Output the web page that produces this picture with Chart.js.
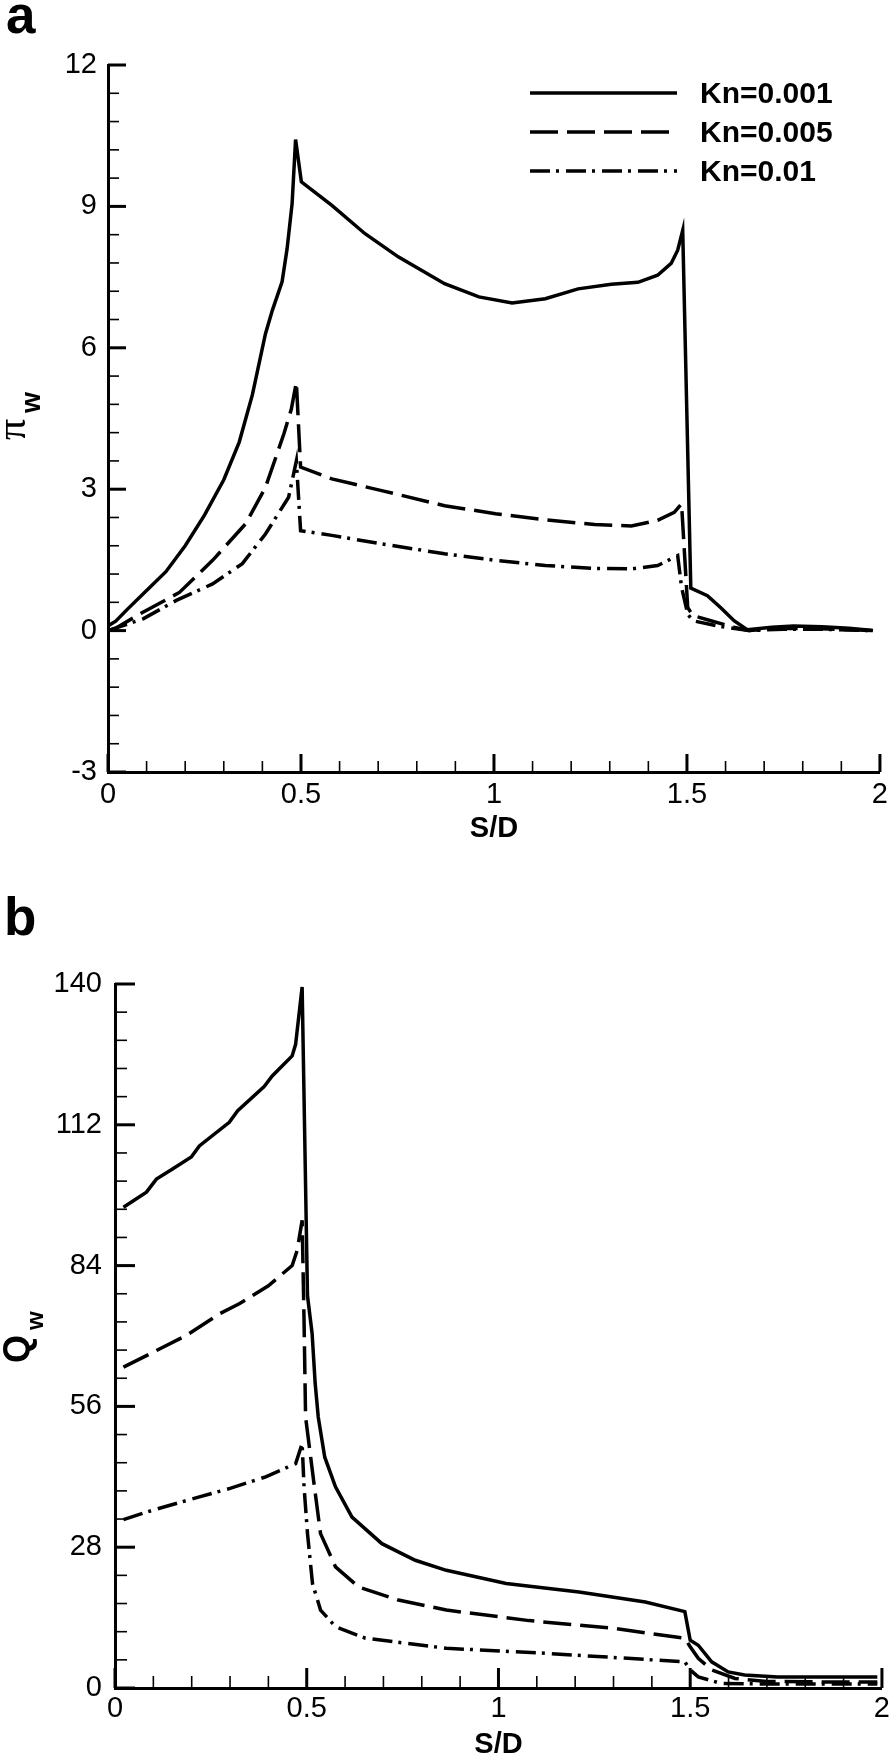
<!DOCTYPE html>
<html><head><meta charset="utf-8">
<script src="https://cdn.jsdelivr.net/npm/chart.js@4.4.1/dist/chart.umd.min.js"></script>
<style>
html,body{margin:0;padding:0;background:#fff;overflow:hidden}
#wa{position:absolute;left:0;top:0;width:896px;height:860px}
#wb{position:absolute;left:0;top:860px;width:896px;height:899px}
</style></head><body>
<div id="wa"><canvas id="ca" width="896" height="860"></canvas></div>
<div id="wb"><canvas id="cb" width="896" height="899"></canvas></div>
<script>
// ---------- labels & ticks ----------
const seriesLabels = ['Kn=0.001', 'Kn=0.005', 'Kn=0.01'];
const xTitle = 'S/D';
const xTicks = [0, 0.5, 1, 1.5, 2];
const xTickLabels = ['0', '0.5', '1', '1.5', '2'];
const yTicksA = [-3, 0, 3, 6, 9, 12];
const yTickLabelsA = ['-3', '0', '3', '6', '9', '12'];
const yTicksB = [0, 28, 56, 84, 112, 140];
const yTickLabelsB = ['0', '28', '56', '84', '112', '140'];

// ---------- panel a : pi_w ----------
const a001X = [0, 0.02, 0.05, 0.1, 0.15, 0.2, 0.25, 0.3, 0.34, 0.374, 0.408, 0.426, 0.451, 0.464, 0.477, 0.486, 0.501, 0.58, 0.666, 0.752, 0.872, 0.961, 1.047, 1.133, 1.218, 1.304, 1.373, 1.424, 1.459, 1.476, 1.489, 1.51, 1.553, 1.587, 1.622, 1.656, 1.72, 1.776, 1.85, 1.92, 1.982];
const a001Y = [0.1, 0.2, 0.45, 0.85, 1.25, 1.8, 2.45, 3.2, 4.0, 5.0, 6.3, 6.8, 7.4, 8.1, 9.06, 10.42, 9.52, 9.02, 8.42, 7.93, 7.36, 7.08, 6.95, 7.04, 7.25, 7.35, 7.39, 7.54, 7.79, 8.07, 8.49, 0.9, 0.74, 0.49, 0.21, 0.02, 0.07, 0.1, 0.08, 0.05, 0.0];
const a005X = [0, 0.018, 0.082, 0.185, 0.271, 0.357, 0.408, 0.456, 0.475, 0.488, 0.499, 0.58, 0.709, 0.872, 1.004, 1.133, 1.261, 1.356, 1.424, 1.467, 1.486, 1.502, 1.515, 1.562, 1.622, 1.66, 1.75, 1.85, 1.982];
const a005Y = [0, 0.04, 0.35, 0.81, 1.49, 2.27, 3.04, 4.18, 4.7, 5.27, 3.47, 3.22, 2.97, 2.65, 2.48, 2.35, 2.25, 2.22, 2.34, 2.51, 2.69, 0.49, 0.32, 0.21, 0.07, 0.0, 0.05, 0.04, 0.0];
const a01X = [0, 0.091, 0.177, 0.271, 0.348, 0.408, 0.468, 0.488, 0.499, 0.58, 0.709, 0.872, 1.004, 1.133, 1.261, 1.356, 1.424, 1.476, 1.486, 1.502, 1.515, 1.579, 1.66, 1.75, 1.85, 1.982];
const a01Y = [0, 0.25, 0.64, 0.99, 1.42, 2.05, 2.83, 3.6, 2.12, 2.02, 1.84, 1.63, 1.49, 1.38, 1.32, 1.31, 1.38, 1.59, 0.92, 0.35, 0.21, 0.1, 0.0, 0.03, 0.03, 0.0];

// ---------- panel b : Q_w ----------
const b001X = [0.022, 0.082, 0.108, 0.15, 0.199, 0.22, 0.298, 0.32, 0.389, 0.41, 0.462, 0.471, 0.488, 0.502, 0.514, 0.522, 0.53, 0.547, 0.575, 0.618, 0.696, 0.783, 0.864, 1.02, 1.21, 1.383, 1.486, 1.5, 1.521, 1.556, 1.599, 1.642, 1.728, 1.988];
const b001Y = [95.6, 98.6, 101.2, 103.2, 105.6, 107.8, 112.5, 114.8, 119.6, 121.7, 125.7, 128.0, 139.4, 78, 70.5, 60.6, 53.9, 45.9, 40, 34, 28.7, 25.4, 23.4, 20.8, 19.1, 17.1, 15.2, 9.5, 8.5, 5.2, 3.2, 2.6, 2.2, 2.2];
const b005X = [0.022, 0.1, 0.186, 0.272, 0.324, 0.4, 0.462, 0.475, 0.488, 0.493, 0.497, 0.519, 0.536, 0.575, 0.635, 0.739, 0.864, 1.08, 1.296, 1.486, 1.5, 1.521, 1.556, 1.617, 1.7, 1.85, 1.988];
const b005Y = [63.8, 66.8, 70.1, 74.4, 76.4, 80, 84, 87, 93, 73, 53.9, 40.6, 30.7, 24.1, 20.1, 17.5, 15.5, 13.4, 11.9, 9.9, 8.2, 5.9, 3.6, 1.9, 1.3, 1.2, 1.2];
const b01X = [0.022, 0.1, 0.22, 0.3, 0.393, 0.471, 0.488, 0.493, 0.502, 0.515, 0.536, 0.575, 0.653, 0.864, 1.123, 1.486, 1.5, 1.521, 1.581, 1.7, 1.85, 1.988];
const b01Y = [33.5, 35.4, 38, 39.7, 42, 44.6, 48.6, 40, 30.7, 20.8, 15.5, 12.2, 9.9, 7.9, 6.9, 5.2, 3.6, 2.2, 0.9, 0.8, 0.8, 0.8];

// ---------- styles ----------
const FONT = "'Liberation Sans', Arial, Helvetica, sans-serif";
const dashes = [[], [28, 9], [20, 6, 3, 7]];

function pts(xs, ys) { return xs.map((x, i) => ({ x: x, y: ys[i] })); }
function ds(i, xs, ys) {
  return {
    label: seriesLabels[i], data: pts(xs, ys), borderColor: '#000', backgroundColor: '#000',
    borderWidth: 3.5, borderDash: dashes[i], pointRadius: 0, tension: 0, fill: false,
    borderJoinStyle: 'miter'
  };
}
function minorsOf(arr) {
  const out = [];
  for (let i = 0; i < arr.length - 1; i++) {
    const s = (arr[i + 1] - arr[i]) / 5;
    for (let k = 1; k < 5; k++) out.push(arr[i] + k * s);
  }
  return out;
}

function decoPlugin(o) {
  return {
    id: 'deco',
    afterDraw(chart) {
      const ctx = chart.ctx, xs = chart.scales.x, ys = chart.scales.y, ca = chart.chartArea;
      ctx.save();
      ctx.strokeStyle = '#000'; ctx.fillStyle = '#000'; ctx.lineCap = 'butt'; ctx.setLineDash([]);
      const tick = (x1, y1, x2, y2, w) => { ctx.lineWidth = w; ctx.beginPath(); ctx.moveTo(x1, y1); ctx.lineTo(x2, y2); ctx.stroke(); };
      xTicks.forEach(v => { const p = xs.getPixelForValue(v); tick(p, ca.bottom, p, ca.bottom - o.majLen, 3); });
      minorsOf(xTicks).forEach(v => { const p = xs.getPixelForValue(v); tick(p, ca.bottom, p, ca.bottom - o.minLen, 1.6); });
      o.yTicks.forEach(v => { const p = ys.getPixelForValue(v); tick(ca.left, p, ca.left + o.majLen, p, 3); });
      minorsOf(o.yTicks).forEach(v => { const p = ys.getPixelForValue(v); tick(ca.left, p, ca.left + o.minLen, p, 1.6); });
      ctx.font = 'bold 53px ' + FONT; ctx.textBaseline = 'alphabetic'; ctx.textAlign = 'left';
      ctx.fillText(o.panel, o.panelX, o.panelY);
      ctx.translate(o.tX, o.tY); ctx.rotate(-Math.PI / 2);
      ctx.font = o.mainFont; ctx.fillText(o.main, 0, 0);
      ctx.font = o.subFont; ctx.fillText('w', o.subDx, o.subDy);
      ctx.restore();
      if (o.legend) {
        ctx.save();
        chart.data.datasets.forEach((d, i) => {
          const y = o.legend.y + i * o.legend.step;
          ctx.strokeStyle = '#000'; ctx.lineWidth = 3.5; ctx.setLineDash(d.borderDash || []);
          ctx.beginPath(); ctx.moveTo(o.legend.x1, y); ctx.lineTo(o.legend.x2, y); ctx.stroke();
          ctx.setLineDash([]);
          ctx.font = 'bold 30px ' + FONT; ctx.fillStyle = '#000'; ctx.textBaseline = 'alphabetic';
          ctx.fillText(d.label, o.legend.tx, y + 10);
        });
        ctx.restore();
      }
    }
  };
}

function makeChart(id, datasets, yMin, yMax, yTicks, yTickLabels, L) {
  return new Chart(document.getElementById(id), {
    type: 'line',
    data: { datasets: datasets },
    options: {
      responsive: false, animation: false, events: [],
      layout: { padding: { top: L.top, right: L.right, bottom: L.bottom, left: 0 } },
      plugins: { legend: { display: false }, tooltip: { enabled: false }, title: { display: false } },
      scales: {
        x: {
          type: 'linear', min: 0, max: 2,
          afterBuildTicks: s => { s.ticks = xTicks.map(v => ({ value: v })); },
          afterFit: s => { s.height = L.xH; },
          grid: { display: false, drawTicks: false },
          border: { display: true, color: '#000', width: 3 },
          ticks: {
            autoSkip: false, maxRotation: 0, color: '#000', padding: L.xPad,
            font: { family: FONT, size: 29, lineHeight: 1 },
            callback: (v) => xTickLabels[xTicks.indexOf(v)]
          },
          title: { display: true, text: xTitle, color: '#000', padding: { top: 0, bottom: L.tPad }, font: { family: FONT, size: 29, weight: 'bold', lineHeight: 1 } }
        },
        y: {
          type: 'linear', min: yMin, max: yMax,
          afterBuildTicks: s => { s.ticks = yTicks.map(v => ({ value: v })); },
          afterFit: s => { s.width = L.yW; },
          grid: { display: false, drawTicks: false },
          border: { display: true, color: '#000', width: 3 },
          ticks: {
            color: '#000', padding: L.yPad,
            font: { family: FONT, size: 29, lineHeight: 1 },
            callback: (v) => yTickLabels[yTicks.indexOf(v)]
          }
        }
      }
    },
    plugins: [decoPlugin(L.deco)]
  });
}

makeChart('ca', [ds(0, a001X, a001Y), ds(1, a005X, a005Y), ds(2, a01X, a01Y)], -3, 12, yTicksA, yTickLabelsA, {
  top: 65, right: 11, bottom: 16, xH: 72, yW: 108, xPad: 8, yPad: 11, tPad: 1,
  deco: {
    yTicks: yTicksA, majLen: 18, minLen: 11, panel: 'a', panelX: 6, panelY: 33,
    tX: 25, tY: 440, main: '\u03C0', mainFont: "42px 'Liberation Serif', 'Times New Roman', serif", subFont: 'bold 27px ' + FONT, subDx: 27, subDy: 15,
    legend: { x1: 530, x2: 677, y: 93, step: 39, tx: 700 }
  }
});

makeChart('cb', [ds(0, b001X, b001Y), ds(1, b005X, b005Y), ds(2, b01X, b01Y)], 0, 140, yTicksB, yTickLabelsB, {
  top: 124, right: 10, bottom: 0, xH: 71, yW: 115, xPad: 6, yPad: 13, tPad: 0,
  deco: {
    yTicks: yTicksB, majLen: 20, minLen: 12, panel: 'b', panelX: 4, panelY: 75,
    tX: 29, tY: 503, main: 'Q', mainFont: 'bold 36px ' + FONT, subFont: 'bold 24px ' + FONT, subDx: 33, subDy: 14,
    legend: null
  }
});
</script>
</body></html>
